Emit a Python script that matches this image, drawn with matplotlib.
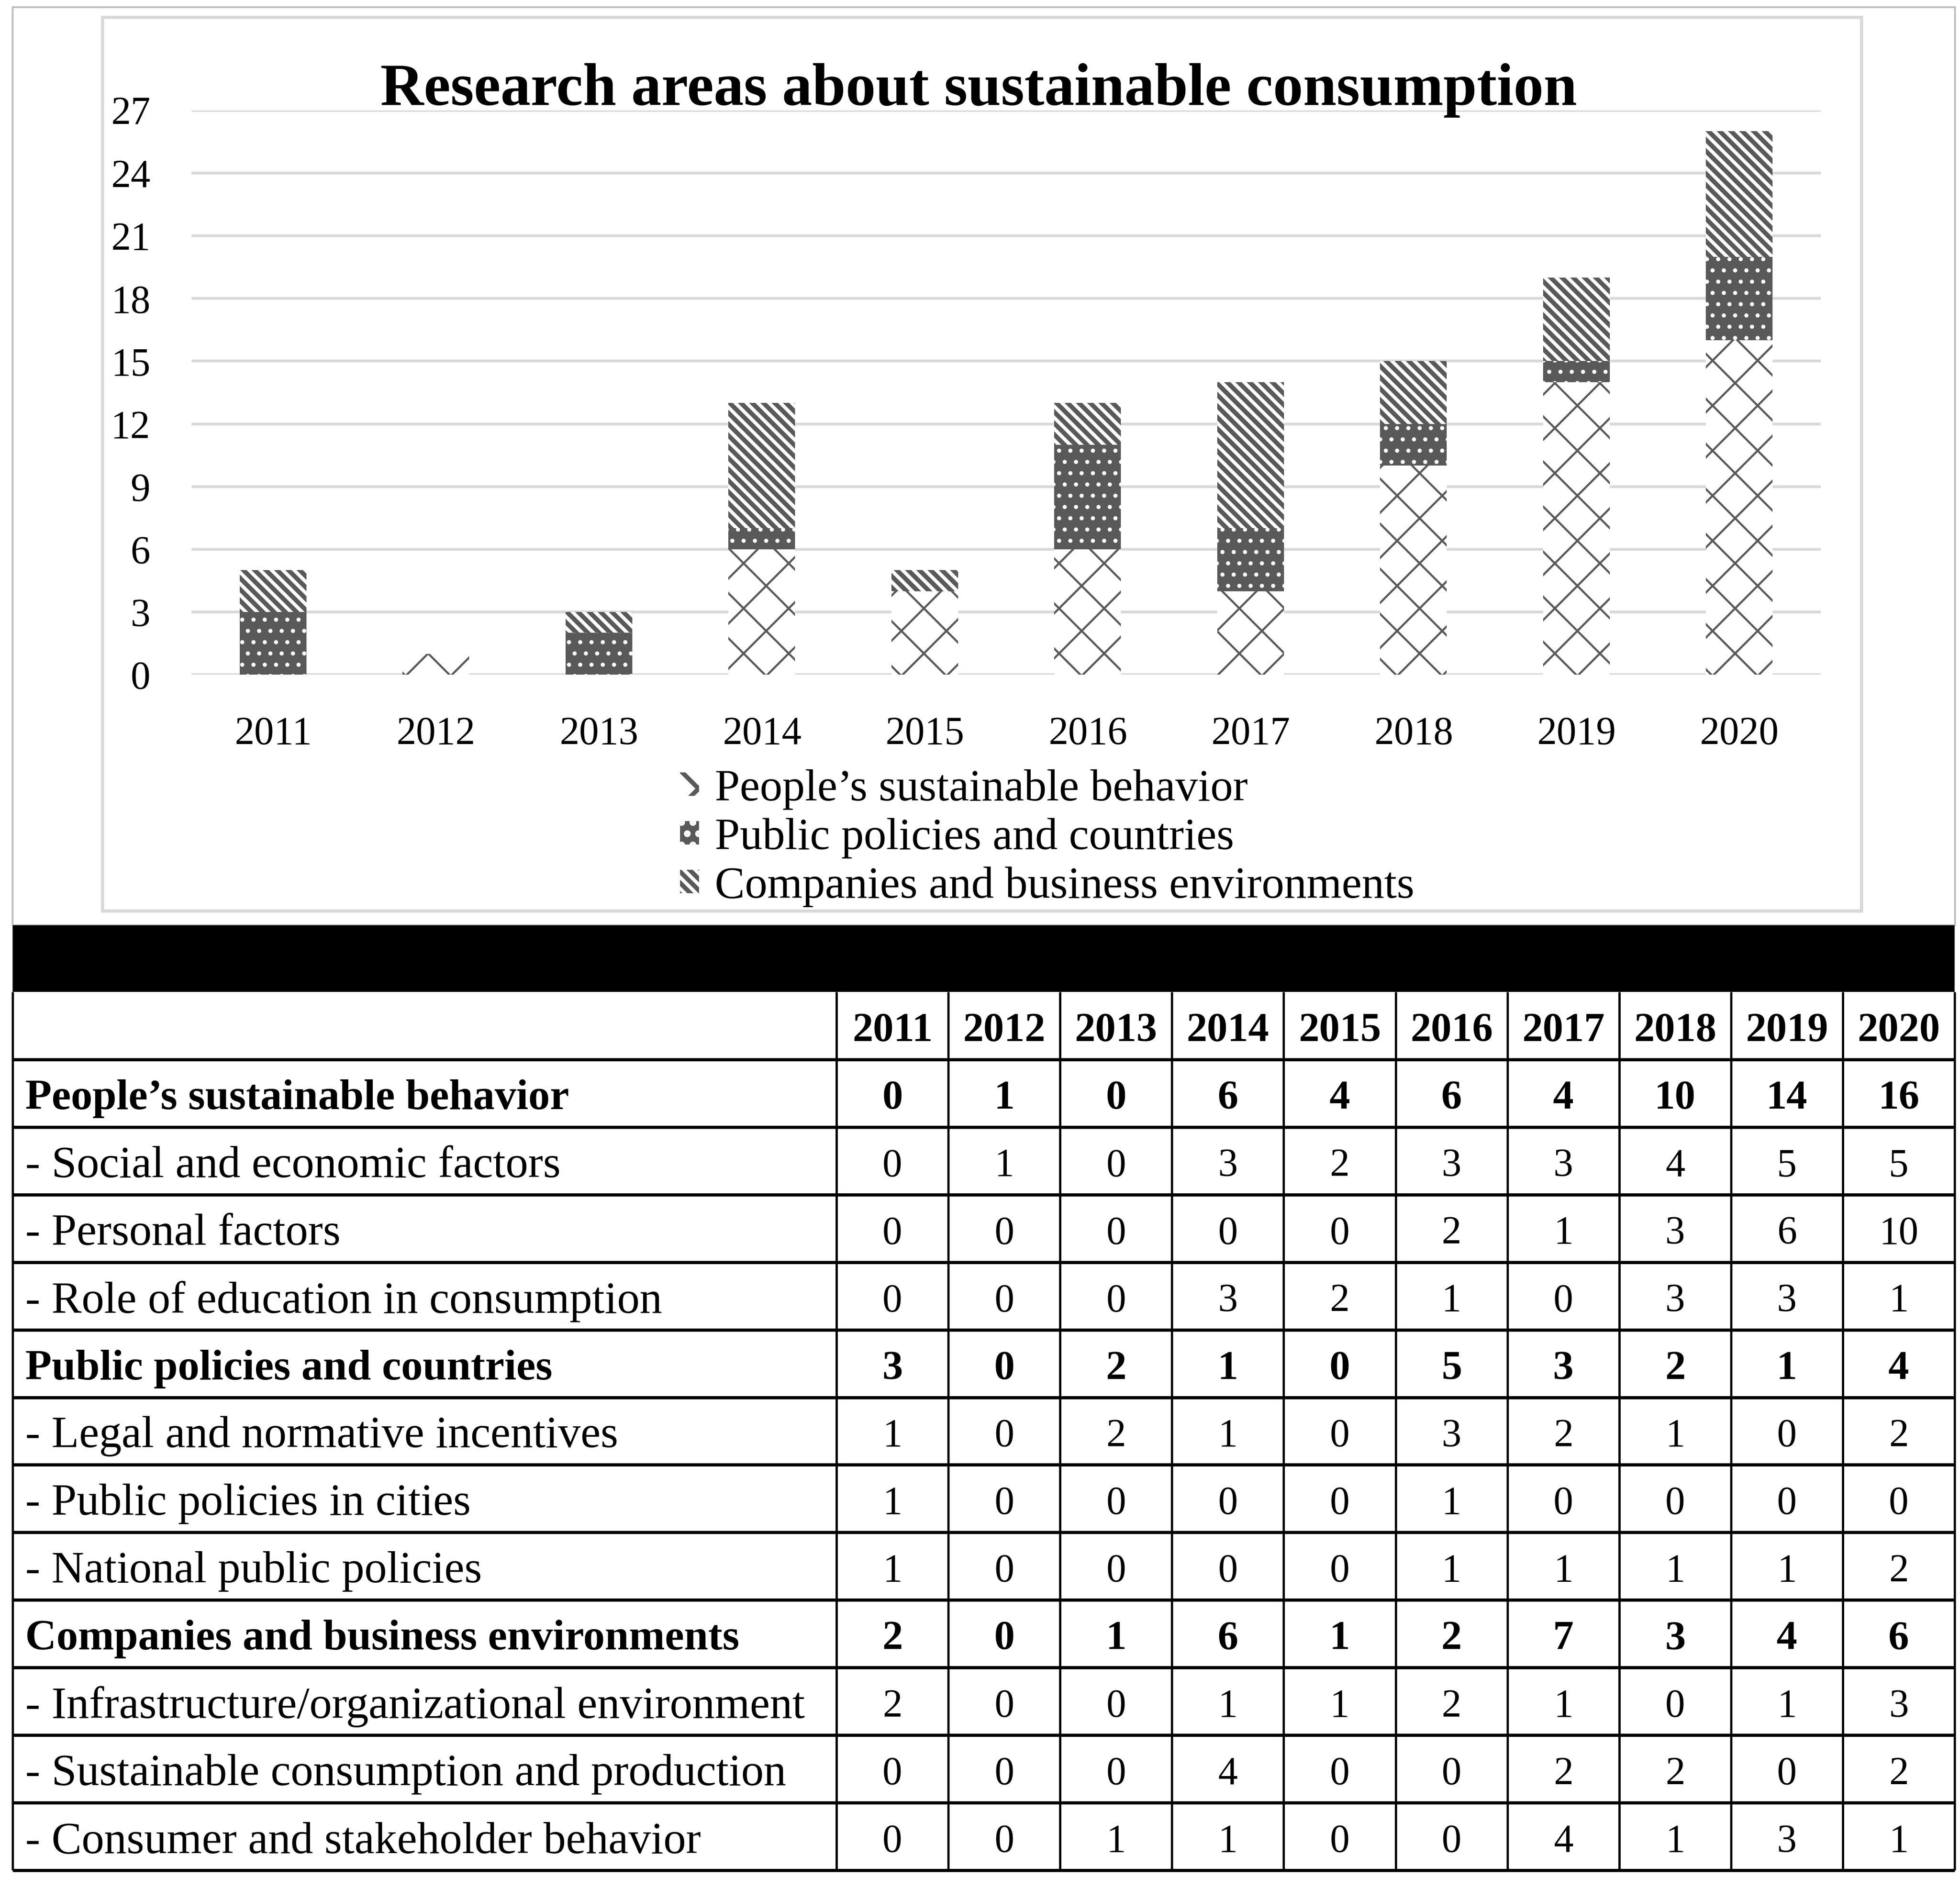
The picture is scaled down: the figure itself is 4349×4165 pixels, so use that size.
import numpy as np
import matplotlib
matplotlib.use("Agg")
import matplotlib.pyplot as plt
from matplotlib.patches import Rectangle

plt.rcParams['font.family'] = ['Liberation Serif', 'DejaVu Serif']
plt.rcParams['hatch.linewidth'] = 1.2

# data
years = ['2011', '2012', '2013', '2014', '2015', '2016', '2017', '2018', '2019', '2020']
people = [0, 1, 0, 6, 4, 6, 4, 10, 14, 16]
public = [3, 0, 2, 1, 0, 5, 3, 2, 1, 4]
companies = [2, 0, 1, 6, 1, 2, 7, 3, 4, 6]
series_names = ['People\u2019s sustainable behavior',
                'Public policies and countries',
                'Companies and business environments']

row_labels = ['People\u2019s sustainable behavior',
              '- Social and economic factors',
              '- Personal factors',
              '- Role of education in consumption',
              'Public policies and countries',
              '- Legal and normative incentives',
              '- Public policies in cities',
              '- National public policies',
              'Companies and business environments',
              '- Infrastructure/organizational environment',
              '- Sustainable consumption and production',
              '- Consumer and stakeholder behavior']
row_bold = [True, False, False, False, True, False, False, False, True, False, False, False]
row_values = [people,
              [0, 1, 0, 3, 2, 3, 3, 4, 5, 5],
              [0, 0, 0, 0, 0, 2, 1, 3, 6, 10],
              [0, 0, 0, 3, 2, 1, 0, 3, 3, 1],
              public,
              [1, 0, 2, 1, 0, 3, 2, 1, 0, 2],
              [1, 0, 0, 0, 0, 1, 0, 0, 0, 0],
              [1, 0, 0, 0, 0, 1, 1, 1, 1, 2],
              companies,
              [2, 0, 0, 1, 1, 2, 1, 0, 1, 3],
              [0, 0, 0, 4, 0, 0, 2, 2, 0, 2],
              [0, 0, 1, 1, 0, 0, 4, 1, 3, 1]]

W, H = 4349, 4165
fig = plt.figure(figsize=(W / 300, H / 300), dpi=300)

# background layer in pixel coordinates (frames, black bar, table)
base = fig.add_axes([0, 0, 1, 1], zorder=0)
base.set_xlim(0, W)
base.set_ylim(H, 0)
base.axis('off')

base.add_patch(Rectangle((28, 16), 4310, 2037, fill=False, edgecolor='#bfbfbf', lw=1.0))
base.add_patch(Rectangle((227, 38), 3903, 1983, fill=False, edgecolor='#d9d9d9', lw=1.7))
base.add_patch(Rectangle((28, 2053), 4309, 148, facecolor='black', edgecolor='none'))

# table
t_top, t_bot = 2201, 4150
t_left, t_mid, t_right = 28, 1856, 4337
n_rows = len(row_labels) + 1
rh = (t_bot - t_top) / n_rows
cw = (t_right - t_mid) / len(years)

for i in range(1, n_rows + 1):
    y = t_top + i * rh
    base.plot([t_left, t_right], [y, y], color='black', lw=1.7, solid_capstyle='butt')
for xx in [t_left, t_mid] + [t_mid + j * cw for j in range(1, len(years) + 1)]:
    base.plot([xx, xx], [t_top, t_bot], color='black', lw=1.2, solid_capstyle='butt')

dy = 12  # text sits a little low in the cells
for j, yr in enumerate(years):
    base.text(t_mid + (j + 0.5) * cw, t_top + 0.5 * rh + dy, yr, ha='center', va='center',
              fontsize=22, fontweight='bold')
for i, (lab, vals, b) in enumerate(zip(row_labels, row_values, row_bold)):
    yc = t_top + (i + 1.5) * rh + dy
    wt = 'bold' if b else 'normal'
    base.text(t_left + 28, yc, lab, ha='left', va='center',
              fontsize=23 if b else 24, fontweight=wt)
    for j, v in enumerate(vals):
        base.text(t_mid + (j + 0.5) * cw, yc, str(v), ha='center', va='center',
                  fontsize=22 if b else 21, fontweight=wt)

# chart
ax = fig.add_axes([425 / W, 1 - 1497 / H, (4040 - 425) / W, (1497 - 245) / H], zorder=1)
ax.patch.set_alpha(0)
x = np.arange(len(years))
bw = 0.41
plt.rcParams['hatch.linewidth'] = 1.1
b1 = ax.bar(x, people, bw, color='white', edgecolor='#595959', hatch='x', lw=0,
            label=series_names[0], zorder=2)
plt.rcParams['hatch.linewidth'] = 1.0
b2 = ax.bar(x, public, bw, bottom=people, color='#595959', edgecolor='white', hatch='..',
            lw=0, label=series_names[1], zorder=2)
bottom2 = np.array(people) + np.array(public)
plt.rcParams['hatch.linewidth'] = 2.4
b3 = ax.bar(x, companies, bw, bottom=bottom2, color='white', edgecolor='#595959',
            hatch='\\\\\\\\', lw=0, label=series_names[2], zorder=2)

ax.set_ylim(0, 27)
ax.set_xlim(-0.5, len(years) - 0.5)
ax.set_yticks(np.arange(0, 28, 3))
ax.set_xticks(x)
ax.set_xticklabels(years)
ax.yaxis.grid(True, color='#d9d9d9', lw=1.5)
ax.set_axisbelow(True)
for s in ax.spines.values():
    s.set_visible(False)
ax.tick_params(axis='both', length=0, labelsize=21)
ax.tick_params(axis='y', pad=22)
ax.tick_params(axis='x', pad=22)

fig.text(2172 / W, 1 - 233 / H, 'Research areas about sustainable consumption',
         ha='center', va='baseline', fontsize=32, fontweight='bold')

fig.legend(handles=[b1, b2, b3], loc='center left',
           bbox_to_anchor=(1509 / W, 1 - 1860 / H), frameon=False, fontsize=24,
           handlelength=0.42, handleheight=0.42, handletextpad=0.35,
           labelspacing=0.18, borderpad=0, borderaxespad=0)

fig.savefig('out.png', dpi=300)
